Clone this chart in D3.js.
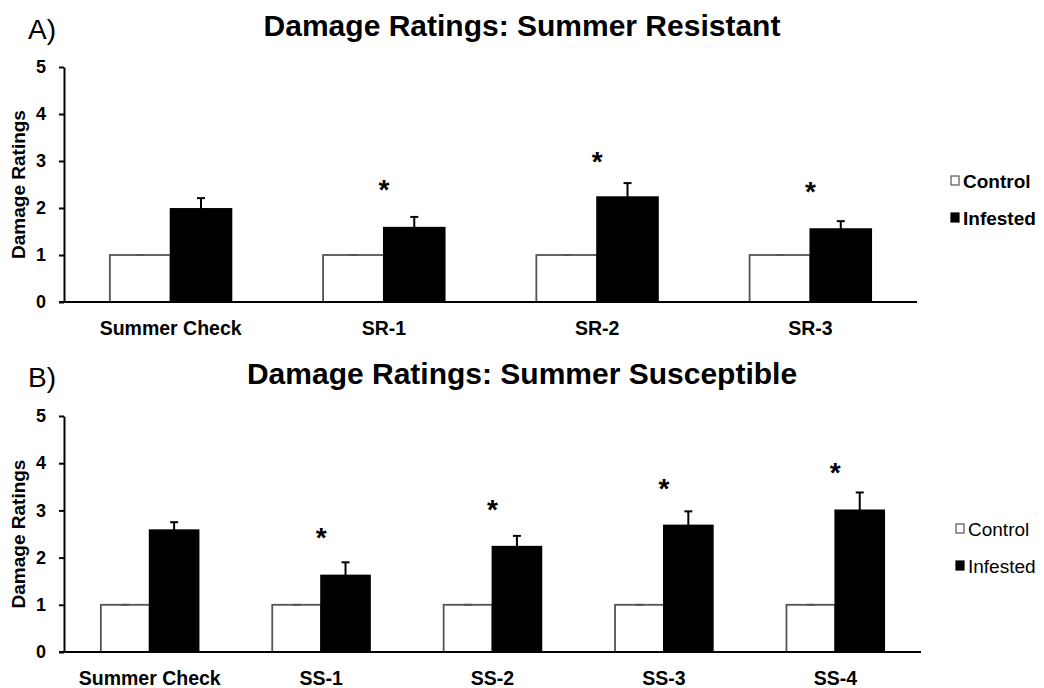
<!DOCTYPE html>
<html>
<head>
<meta charset="utf-8">
<script src="https://cdn.jsdelivr.net/npm/d3@7"></script>
<style>
  body { margin: 0; background: #fff; }
  text { font-family: "Liberation Sans", Arial, sans-serif; fill: #000; }
</style>
</head>
<body>
<div id="chart"></div>
<script>
// Data
const seriesNames = ["Control", "Infested"];
const yTicks = [0, 1, 2, 3, 4, 5];

const groupsA = ["Summer Check", "SR-1", "SR-2", "SR-3"];
const controlA = [1, 1, 1, 1];
const controlErrA = [0, 0, 0, 0];
const infestedA = [1.98, 1.58, 2.23, 1.55];
const infestedErrA = [0.23, 0.23, 0.30, 0.17];
const starA = [null, 2.53, 3.13, 2.49];

const groupsB = ["Summer Check", "SS-1", "SS-2", "SS-3", "SS-4"];
const controlB = [1, 1, 1, 1, 1];
const controlErrB = [0, 0, 0, 0, 0];
const infestedB = [2.58, 1.62, 2.23, 2.68, 3.00];
const infestedErrB = [0.17, 0.28, 0.23, 0.30, 0.38];
const starB = [null, 2.57, 3.15, 3.61, 3.94];

const width = 1044, height = 688;

const svg = d3.select("#chart")
  .append("svg")
  .attr("width", width)
  .attr("height", height);

function drawPanel(p) {
  const g = svg.append("g");

  // Scales
  const x = d3.scaleBand().domain(p.groups).range([p.left, p.right])
    .paddingInner(0.43).paddingOuter(0.215);
  const xs = d3.scaleBand().domain(seriesNames).range([0, x.bandwidth()]);
  const y = d3.scaleLinear().domain([0, 5]).range([p.bottom, p.top]);

  const rows = p.groups.map((name, i) => ({
    name: name,
    vals: [
      { s: "Control", v: p.control[i], e: p.controlErr[i] },
      { s: "Infested", v: p.infested[i], e: p.infestedErr[i] }
    ],
    star: p.star[i]
  }));

  // Bars
  const grp = g.selectAll(".grp")
    .data(rows)
    .enter()
    .append("g")
    .attr("transform", d => "translate(" + x(d.name) + ",0)");

  grp.selectAll("rect")
    .data(d => d.vals)
    .enter()
    .append("rect")
    .attr("x", d => xs(d.s))
    .attr("y", d => y(d.v))
    .attr("width", xs.bandwidth())
    .attr("height", d => y(0) - y(d.v))
    .attr("fill", d => d.s === "Control" ? "#fff" : "#000")
    .attr("stroke", d => d.s === "Control" ? "#555" : "#000")
    .attr("stroke-width", 1.8);

  // Error bars (upper only)
  const eb = grp.selectAll(".eb")
    .data(d => d.vals)
    .enter()
    .append("g")
    .attr("class", "eb");

  eb.append("line")
    .attr("x1", d => xs(d.s) + xs.bandwidth() / 2)
    .attr("x2", d => xs(d.s) + xs.bandwidth() / 2)
    .attr("y1", d => y(d.v))
    .attr("y2", d => y(d.v + d.e))
    .attr("stroke", d => d.s === "Control" ? "#555" : "#000")
    .attr("stroke-width", 2);

  eb.append("line")
    .attr("x1", d => xs(d.s) + xs.bandwidth() / 2 - 4)
    .attr("x2", d => xs(d.s) + xs.bandwidth() / 2 + 4)
    .attr("y1", d => y(d.v + d.e))
    .attr("y2", d => y(d.v + d.e))
    .attr("stroke", d => d.s === "Control" ? "#555" : "#000")
    .attr("stroke-width", 2);

  // Significance asterisks
  grp.filter(d => d.star !== null)
    .append("text")
    .attr("x", x.bandwidth() / 2)
    .attr("y", d => y(d.star))
    .attr("dy", "0.57em")
    .attr("text-anchor", "middle")
    .style("font-size", "28px")
    .style("font-weight", "bold")
    .text("*");

  // Y axis
  const yAxis = d3.axisLeft(y).tickValues(yTicks).tickFormat(d3.format("d"))
    .tickSize(5).tickSizeOuter(0).tickPadding(13);
  const ya = g.append("g")
    .attr("transform", "translate(" + p.left + ",0)")
    .call(yAxis);
  ya.select(".domain").attr("stroke", "#000").attr("stroke-width", 2);
  ya.selectAll(".tick line").attr("stroke", "#000").attr("stroke-width", 2);
  ya.selectAll(".tick text")
    .style("font-family", "'Liberation Sans', Arial, sans-serif")
    .style("font-size", "18px")
    .style("font-weight", "bold")
    .attr("fill", "#000");

  // X axis
  const xAxis = d3.axisBottom(x).tickSize(0).tickSizeOuter(0).tickPadding(19);
  const xa = g.append("g")
    .attr("transform", "translate(0," + y(0) + ")")
    .call(xAxis);
  xa.select(".domain").remove();
  xa.selectAll(".tick text")
    .style("font-family", "'Liberation Sans', Arial, sans-serif")
    .style("font-size", "19.5px")
    .style("font-weight", "bold")
    .attr("fill", "#000");
  g.append("line")
    .attr("x1", p.left - 5)
    .attr("x2", p.right)
    .attr("y1", y(0))
    .attr("y2", y(0))
    .attr("stroke", "#000")
    .attr("stroke-width", 2);

  // Y axis label
  g.append("text")
    .attr("text-anchor", "middle")
    .attr("transform", "translate(25," + ((y(0) + y(5)) / 2) + ")rotate(-90)")
    .style("font-size", "19px")
    .style("font-weight", "bold")
    .text("Damage Ratings");

  // Title and panel letter
  g.append("text")
    .attr("x", 522)
    .attr("y", p.titleY)
    .attr("text-anchor", "middle")
    .style("font-size", "30px")
    .style("font-weight", "bold")
    .text(p.title);

  g.append("text")
    .attr("x", 28)
    .attr("y", p.titleY + 3)
    .style("font-size", "28px")
    .text(p.letter);

  // Legend
  const lg = g.append("g")
    .attr("transform", "translate(" + p.legendX + "," + p.legendY + ")");
  const li = lg.selectAll("g")
    .data(seriesNames)
    .enter()
    .append("g")
    .attr("transform", (d, i) => "translate(0," + i * 37 + ")");
  li.append("rect")
    .attr("x", -4)
    .attr("y", -5)
    .attr("width", 8)
    .attr("height", 9)
    .attr("fill", d => d === "Control" ? "#fff" : "#000")
    .attr("stroke", d => d === "Control" ? "#555" : "#000")
    .attr("stroke-width", 1.2);
  li.append("text")
    .attr("x", 8)
    .attr("y", 7)
    .style("font-size", "19px")
    .style("font-weight", p.legendBold ? "bold" : "normal")
    .text(d => d);
}

drawPanel({
  groups: groupsA, control: controlA, controlErr: controlErrA,
  infested: infestedA, infestedErr: infestedErrA, star: starA,
  left: 64, right: 917, top: 67, bottom: 302,
  title: "Damage Ratings: Summer Resistant", letter: "A)", titleY: 36,
  legendX: 955, legendY: 181, legendBold: true
});

drawPanel({
  groups: groupsB, control: controlB, controlErr: controlErrB,
  infested: infestedB, infestedErr: infestedErrB, star: starB,
  left: 64, right: 921, top: 416, bottom: 652,
  title: "Damage Ratings: Summer Susceptible", letter: "B)", titleY: 384,
  legendX: 960, legendY: 529, legendBold: false
});
</script>
</body>
</html>
